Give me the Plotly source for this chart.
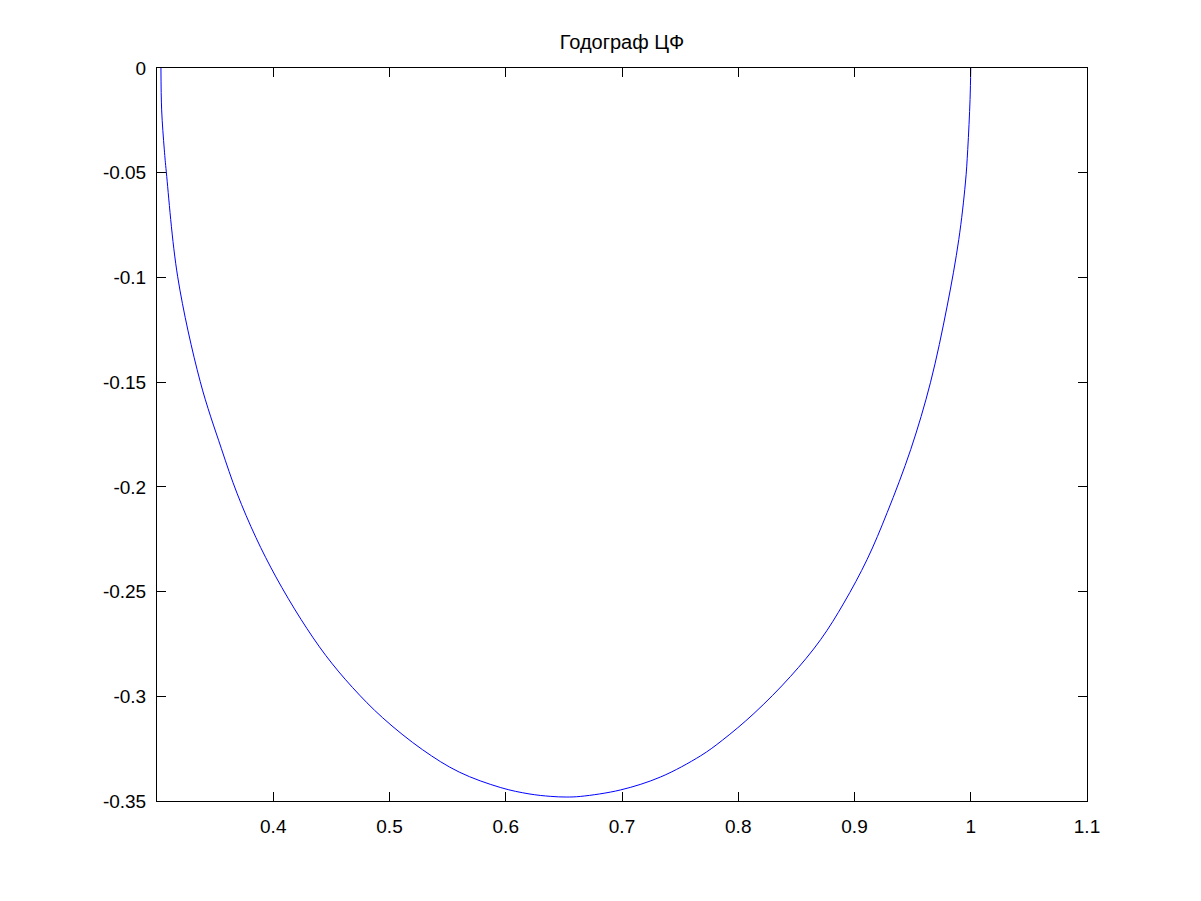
import plotly.graph_objects as go

re_vals = [0.3034, 0.3040, 0.3063, 0.3080, 0.3178, 0.3372, 0.3553, 0.3688, 0.3851,
           0.4023, 0.4238, 0.4453, 0.4682, 0.4940, 0.5284, 0.5600, 0.5957, 0.6200,
           0.6387, 0.6520, 0.6645, 0.6989, 0.7333, 0.7677, 0.7863, 0.8135, 0.8450,
           0.8708, 0.8908, 0.9109, 0.9281, 0.9484, 0.9653, 0.9797, 0.9897, 0.9954,
           0.9974, 0.9994, 1.0000]
im_vals = [0.0000, -0.0200, -0.0391, -0.0496, -0.0997, -0.1498, -0.1816, -0.2030, -0.2242,
           -0.2430, -0.2632, -0.2806, -0.2958, -0.3102, -0.3255, -0.3362, -0.3436, -0.3466,
           -0.3478, -0.3481, -0.3478, -0.3447, -0.3385, -0.3284, -0.3210, -0.3082, -0.2905,
           -0.2730, -0.2555, -0.2346, -0.2123, -0.1821, -0.1503, -0.1137, -0.0819, -0.0549,
           -0.0390, -0.0150, 0.0000]

x_ticks = [0.4, 0.5, 0.6, 0.7, 0.8, 0.9, 1.0, 1.1]
x_labels = ["0.4", "0.5", "0.6", "0.7", "0.8", "0.9", "1", "1.1"]
y_ticks = [0, -0.05, -0.1, -0.15, -0.2, -0.25, -0.3, -0.35]
y_labels = ["0", "-0.05", "-0.1", "-0.15", "-0.2", "-0.25", "-0.3", "-0.35"]
title_text = "Годограф ЦФ"

fig = go.Figure()
fig.add_trace(go.Scatter(x=re_vals, y=im_vals, mode="lines",
                         line=dict(color="#0000ff", width=1, shape="spline", smoothing=1.0),
                         showlegend=False, hoverinfo="skip"))

font = dict(family="Liberation Sans, Arial, sans-serif", size=19, color="black")
title_font = dict(family="Liberation Sans, Arial, sans-serif", size=20, color="black")

W, H = 1193, 893
fig.update_layout(
    width=W, height=H,
    margin=dict(l=149, r=114, t=60, b=100, pad=0),
    paper_bgcolor="white", plot_bgcolor="white",
    font=font,
    title=dict(text=title_text, x=(149 + 1079) / 2 / W, xanchor="center",
               y=1 - 34 / H, yanchor="middle", font=title_font),
    showlegend=False,
)
fig.update_xaxes(range=[0.3, 1.1], tickvals=x_ticks, ticktext=x_labels,
                 ticks="inside", ticklen=9, tickwidth=1, tickcolor="black",
                 showline=True, linecolor="black", linewidth=1, mirror="ticks",
                 showgrid=False, zeroline=False, ticklabelstandoff=8,
                 tickfont=font)
fig.update_yaxes(range=[-0.35, 0], tickvals=y_ticks, ticktext=y_labels,
                 ticks="inside", ticklen=9, tickwidth=1, tickcolor="black",
                 showline=True, linecolor="black", linewidth=1, mirror="ticks",
                 showgrid=False, zeroline=False, ticklabelstandoff=6,
                 tickfont=font)

fig.write_html("out.html")
